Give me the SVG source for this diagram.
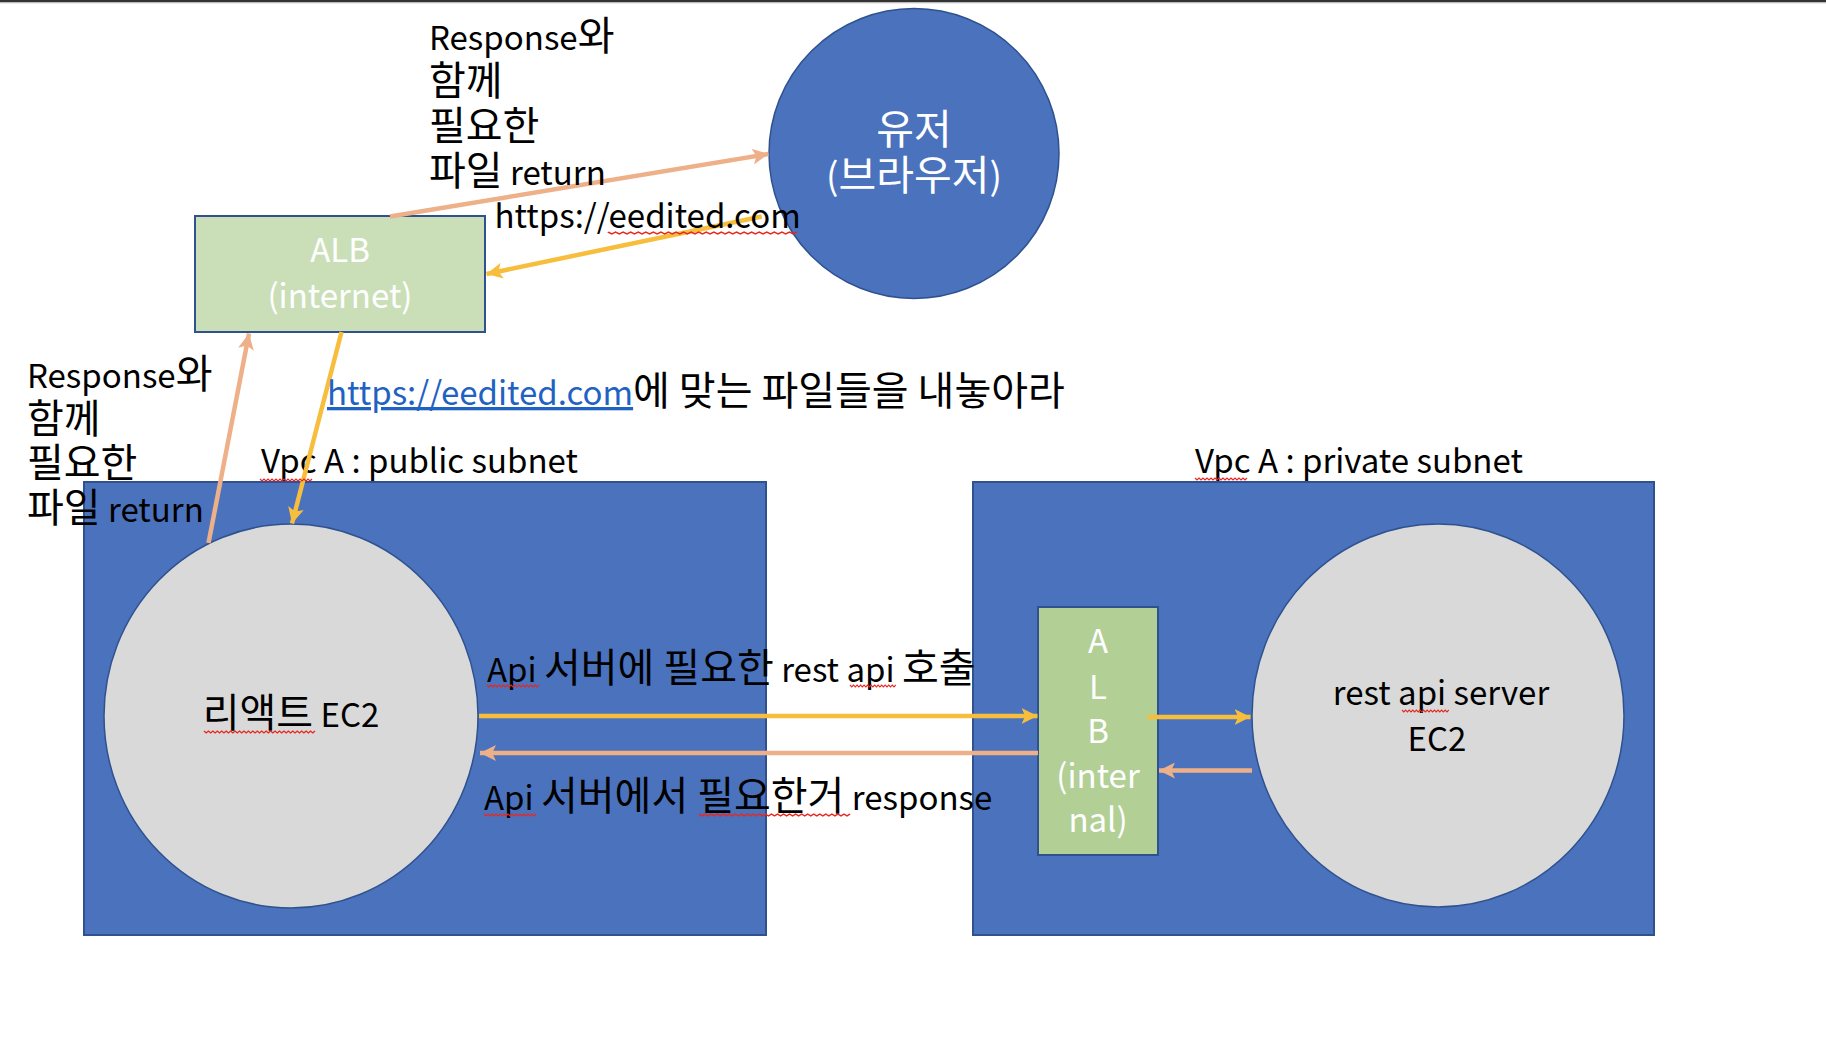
<svg xmlns="http://www.w3.org/2000/svg" width="1826" height="1054" viewBox="0 0 1826 1054">
<style>
text{font-family:"Noto Sans CJK KR","Noto Sans",sans-serif;}
.t{font-size:33px;fill:#000;}
.k{font-size:40px;}
.w{font-size:33px;fill:#fff;text-anchor:middle;}
.big{font-size:37px;fill:#fff;text-anchor:middle;}
.bk{font-size:41px;}
.c{font-size:33px;fill:#000;text-anchor:middle;}
.sub{fill:#4A72BD;stroke:#2F528F;stroke-width:2;}
.ec2{fill:#D9D9D9;stroke:#2F528F;stroke-width:1.5;}
.ln{fill:none;stroke-width:4.5;}
.sal{stroke:#EEB088;}
.yel{stroke:#F6BE3C;}
.sq{fill:none;stroke:#E8281E;stroke-width:1.2;}
</style>
<defs>
<marker id="ahS" markerUnits="userSpaceOnUse" markerWidth="16" markerHeight="16" viewBox="0 0 15 15" refX="15" refY="7.5" orient="auto"><path d="M0,0 L15,7.5 L0,15 L3.5,7.5 z" fill="#EEB088"/></marker>
<marker id="ahY" markerUnits="userSpaceOnUse" markerWidth="16" markerHeight="16" viewBox="0 0 15 15" refX="15" refY="7.5" orient="auto"><path d="M0,0 L15,7.5 L0,15 L3.5,7.5 z" fill="#F6BE3C"/></marker>
<path id="zz" d="M0,0 l2,2 l2,-2 l2,2 l2,-2 l2,2 l2,-2 l2,2 l2,-2 l2,2 l2,-2 l2,2 l2,-2 l2,2 l2,-2 l2,2 l2,-2 l2,2 l2,-2 l2,2 l2,-2 l2,2 l2,-2 l2,2 l2,-2 l2,2 l2,-2 l2,2 l2,-2 l2,2 l2,-2 l2,2 l2,-2 l2,2 l2,-2 l2,2 l2,-2 l2,2 l2,-2 l2,2 l2,-2 l2,2 l2,-2 l2,2 l2,-2 l2,2 l2,-2 l2,2 l2,-2 l2,2 l2,-2"/>
<path id="zzs" d="M0,0 l2,2 l2,-2 l2,2 l2,-2 l2,2 l2,-2 l2,2 l2,-2 l2,2 l2,-2 l2,2 l2,-2 l2,2 l2,-2 l2,2 l2,-2 l2,2 l2,-2 l2,2 l2,-2 l2,2 l2,-2 l2,2 l2,-2 l2,2 l2,-2"/>
</defs>
<rect width="1826" height="1054" fill="#fff"/>
<rect x="0" y="0" width="1826" height="2" fill="#333"/>
<rect x="0" y="2" width="1826" height="1.3" fill="#BDBDBD"/>

<g id="public-subnet">
<rect class="sub" x="84" y="482" width="682" height="453"/>
<text class="t" x="261" y="473">Vpc A : public subnet</text>
</g>
<g id="private-subnet">
<rect class="sub" x="973" y="482" width="681" height="453"/>
<text class="t" x="1195" y="473">Vpc A : private subnet</text>
</g>

<g id="user">
<circle cx="914" cy="153.5" r="145" fill="#4A72BD" stroke="#2F528F" stroke-width="1.5"/>
<text class="big" x="914" y="144"><tspan class="bk">유저</tspan></text>
<text class="big" x="914" y="190">(<tspan class="bk">브라우저</tspan>)</text>
</g>

<g id="alb-internet">
<rect x="195" y="216" width="290" height="116" fill="#CADFB8" stroke="#2F528F" stroke-width="2"/>
<text class="w" x="340" y="262">ALB</text>
<text class="w" x="340" y="308">(internet)</text>
</g>

<g id="react-ec2">
<ellipse class="ec2" cx="291" cy="716" rx="187" ry="192"/>
<text class="c" x="291" y="727"><tspan class="k">리액트</tspan> EC2</text>
</g>

<g id="alb-internal">
<rect x="1038" y="607" width="120" height="248" fill="#B2CF96" stroke="#2F528F" stroke-width="2"/>
<text class="w" x="1098" y="653">A</text>
<text class="w" x="1098" y="699">L</text>
<text class="w" x="1098" y="743">B</text>
<text class="w" x="1098" y="788">(inter</text>
<text class="w" x="1098" y="832">nal)</text>
</g>

<g id="rest-api-ec2">
<ellipse class="ec2" cx="1438" cy="715.5" rx="186" ry="191.5"/>
<text class="c" x="1441" y="705">rest api server</text>
<text class="c" x="1437" y="751">EC2</text>
</g>

<g id="connectors">
<line class="ln sal" x1="390" y1="216.5" x2="768.5" y2="154" marker-end="url(#ahS)"/>
<line class="ln yel" x1="761.7" y1="216.5" x2="486.5" y2="274" marker-end="url(#ahY)"/>
<line class="ln sal" x1="208.5" y1="543" x2="249" y2="333.5" marker-end="url(#ahS)"/>
<line class="ln yel" x1="341.5" y1="332" x2="292" y2="523.5" marker-end="url(#ahY)"/>
<line class="ln yel" x1="479" y1="716" x2="1037.5" y2="716" marker-end="url(#ahY)"/>
<line class="ln sal" x1="1038" y1="753" x2="480" y2="753" marker-end="url(#ahS)"/>
<line class="ln yel" x1="1147.5" y1="717" x2="1250.5" y2="717" marker-end="url(#ahY)"/>
<line class="ln sal" x1="1252" y1="770.5" x2="1159" y2="770.5" marker-end="url(#ahS)"/>
</g>

<g id="labels">
<text class="t" x="429" y="50">Response<tspan class="k">와</tspan></text>
<text class="t" x="429" y="95"><tspan class="k">함께</tspan></text>
<text class="t" x="429" y="140"><tspan class="k">필요한</tspan></text>
<text class="t" x="429" y="185"><tspan class="k">파일</tspan> return</text>
<text class="t" x="494.6" y="228">https://eedited.com</text>
<text class="t" x="27" y="388">Response<tspan class="k">와</tspan></text>
<text class="t" x="27" y="433"><tspan class="k">함께</tspan></text>
<text class="t" x="27" y="477"><tspan class="k">필요한</tspan></text>
<text class="t" x="27" y="522"><tspan class="k">파일</tspan> return</text>
<text class="t" x="327" y="405"><tspan fill="#1F62C2" text-decoration="underline">https://eedited.com</tspan><tspan class="k">에 맞는 파일들을 내놓아라</tspan></text>
<text class="t" x="487" y="682">Api <tspan class="k">서버에 필요한</tspan> rest api <tspan class="k">호출</tspan></text>
<text class="t" x="484" y="810">Api <tspan class="k">서버에서 필요한거</tspan> response</text>
</g>

<g id="spellcheck">
<use href="#zz" class="sq" transform="translate(608,232) scale(1.89,1)"/>
<use href="#zzs" class="sq" transform="translate(260,479)"/>
<use href="#zzs" class="sq" transform="translate(1195,478)"/>
<use href="#zz" class="sq" transform="translate(204,731) scale(1.11,1)"/>
<use href="#zzs" class="sq" transform="translate(487,685)"/>
<use href="#zzs" class="sq" transform="translate(850,685) scale(0.88,1)"/>
<use href="#zzs" class="sq" transform="translate(484,814)"/>
<use href="#zz" class="sq" transform="translate(699,814) scale(1.51,1)"/>
<use href="#zzs" class="sq" transform="translate(1402,710) scale(0.9,1)"/>
</g>
</svg>
